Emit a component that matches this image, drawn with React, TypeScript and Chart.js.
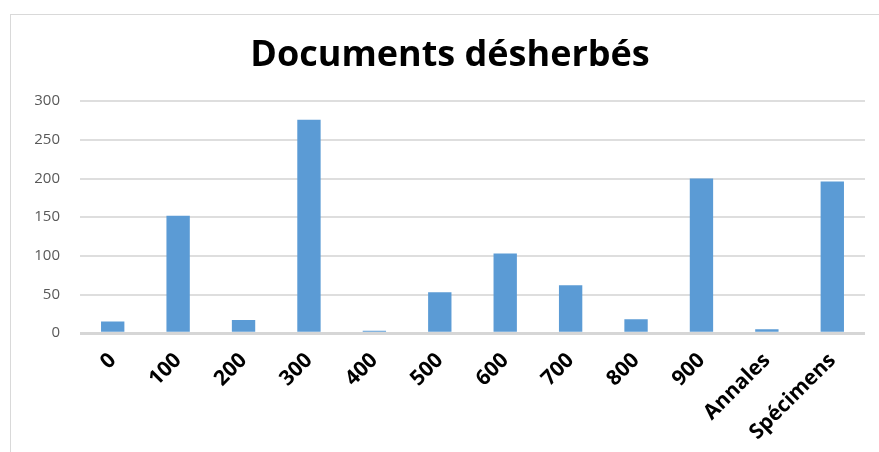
import React, { useEffect, useRef } from "react";
import { Chart, registerables } from "chart.js";

Chart.register(...registerables);

const categories = ["0", "100", "200", "300", "400", "500", "600", "700", "800", "900", "Annales", "Spécimens"];
const values = [15, 152, 17, 276, 3, 53, 103, 62, 18, 200, 5, 196];
const yTicks = [0, 50, 100, 150, 200, 250, 300];
const title = "Documents désherbés";

export default function App() {
  const ref = useRef<HTMLCanvasElement | null>(null);

  useEffect(() => {
    if (!ref.current) return;
    const chart = new Chart(ref.current, {
      type: "bar",
      data: {
        labels: categories,
        datasets: [
          {
            data: values,
            backgroundColor: "#5B9BD5",
            borderWidth: 0,
            barPercentage: 0.357,
            categoryPercentage: 1,
          },
        ],
      },
      options: {
        responsive: false,
        animation: false,
        layout: { padding: { left: 35, right: 14, top: 34, bottom: 0 } },
        plugins: {
          legend: { display: false },
          tooltip: { enabled: false },
          title: {
            display: true,
            text: title,
            color: "#000000",
            font: { family: "'Open Sans', sans-serif", size: 36, weight: "bold" },
            padding: { top: 0, bottom: 24 },
          },
        },
        scales: {
          x: {
            afterFit: (scale: any) => {
              scale.paddingLeft = 0;
              scale.paddingRight = 0;
            },
            grid: { display: false },
            border: { display: false },
            ticks: {
              autoSkip: false,
              maxRotation: 45,
              minRotation: 45,
              color: "#000000",
              padding: 7,
              font: { family: "'Open Sans', sans-serif", size: 21, weight: "bold" },
            },
          },
          y: {
            min: 0,
            max: 300,
            afterBuildTicks: (scale: any) => {
              scale.ticks = yTicks.map((v) => ({ value: v }));
            },
            afterFit: (scale: any) => {
              scale.width = 45;
            },
            border: { display: false },
            grid: {
              drawTicks: false,
              color: (ctx: any) => (ctx.tick && ctx.tick.value === 0 ? "#d6d6d6" : "#dedede"),
              lineWidth: (ctx: any) => (ctx.tick && ctx.tick.value === 0 ? 3 : 2),
            },
            ticks: {
              color: "#595959",
              padding: 20,
              font: { family: "'Open Sans', sans-serif", size: 15 },
            },
          },
        },
      },
    });
    return () => chart.destroy();
  }, []);

  return (
    <div style={{ position: "fixed", left: 0, top: 0, width: 879, height: 452, overflow: "hidden", background: "#fff" }}>
      <div
        style={{
          position: "absolute",
          left: 10,
          top: 14,
          width: 900,
          height: 480,
          border: "1px solid #d9d9d9",
          boxSizing: "border-box",
        }}
      />
      <canvas ref={ref} width={879} height={452} style={{ position: "absolute", left: 0, top: 0 }} />
    </div>
  );
}
